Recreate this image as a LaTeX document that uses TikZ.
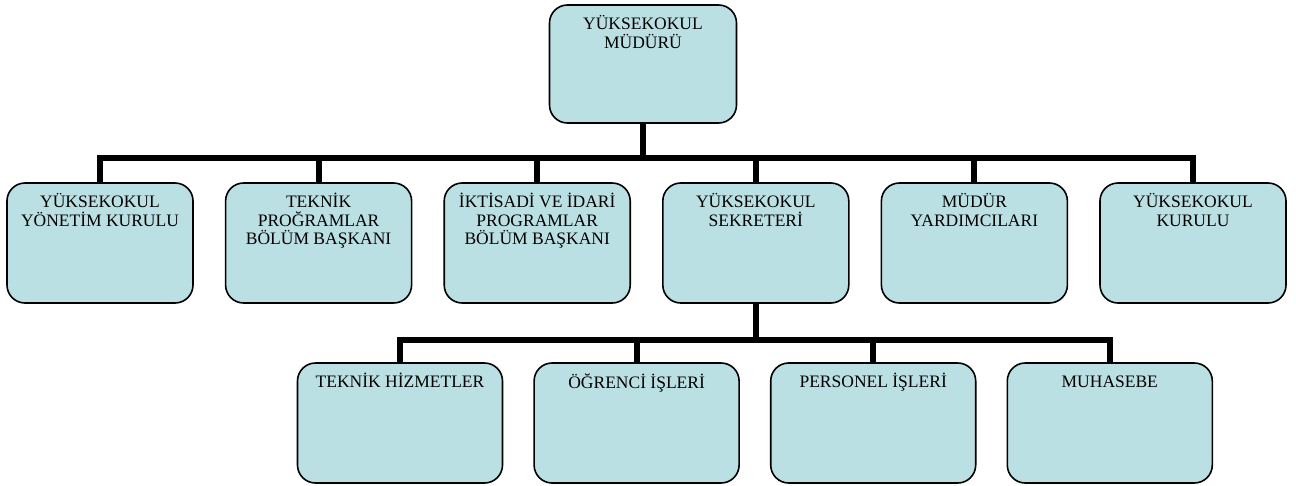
\documentclass[tikz,border=0pt]{standalone}
\usepackage{fontspec}
\setmainfont{Liberation Serif}
\usetikzlibrary{positioning}
\definecolor{unitblue}{RGB}{187,224,227}
\tikzset{
  unit/.style={draw, line width=1.6pt, rounded corners=18pt, fill=unitblue,
    minimum width=186pt, minimum height=120pt, inner sep=0pt,
    label={[caption]north:{#1}}},
  subunit/.style={unit={#1}, minimum width=205pt},
  caption/.style={anchor=north, align=center, inner sep=0pt, yshift=-11pt,
    font=\fontsize{17.5}{18.5}\selectfont, execute at begin node={\vphantom{Ü}}},
  link/.style={line width=6pt}
}

\begin{document}
\begin{tikzpicture}[x=1pt, y=-1pt]
  \useasboundingbox (0,0) rectangle (1296,485);
  % top
  \node[unit={YÜKSEKOKUL\\MÜDÜRÜ}, minimum width=187pt, minimum height=118pt] (mudur) at (643,64) {};
  % first level
  \node[unit={YÜKSEKOKUL\\YÖNETİM KURULU}] (yk) at (100,243) {};
  \node[unit={TEKNİK\\PROĞRAMLAR\\BÖLÜM BAŞKANI}, right=31pt of yk] (tpb) {};
  \node[unit={İKTİSADİ VE İDARİ\\PROGRAMLAR\\BÖLÜM BAŞKANI}, right=31pt of tpb] (iipb) {};
  \node[unit={YÜKSEKOKUL\\SEKRETERİ}, right=31pt of iipb] (sek) {};
  \node[unit={MÜDÜR\\YARDIMCILARI}, right=31pt of sek] (myrd) {};
  \node[unit={YÜKSEKOKUL\\KURULU}, right=31pt of myrd] (ykur) {};
  % second level
  \node[subunit={TEKNİK HİZMETLER}] (thiz) at (400,423) {};
  \node[subunit={ÖĞRENCİ İŞLERİ}, right=30pt of thiz] (ogr) {};
  \node[subunit={PERSONEL İŞLERİ}, right=30pt of ogr] (pers) {};
  \node[subunit={MUHASEBE}, right=30pt of pers] (muh) {};

  \path (mudur.south) ++(0,34) coordinate (bus);
  \path (sek.south) ++(0,36) coordinate (subbus);
  \draw[link] (mudur) -- (bus);
  \foreach \u in {yk,tpb,iipb,sek,myrd,ykur}
    \draw[link] (bus) -| (\u);
  \draw[link] (sek) -- (subbus);
  \foreach \u in {thiz,ogr,pers,muh}
    \draw[link] (subbus) -| (\u);
\end{tikzpicture}
\end{document}
